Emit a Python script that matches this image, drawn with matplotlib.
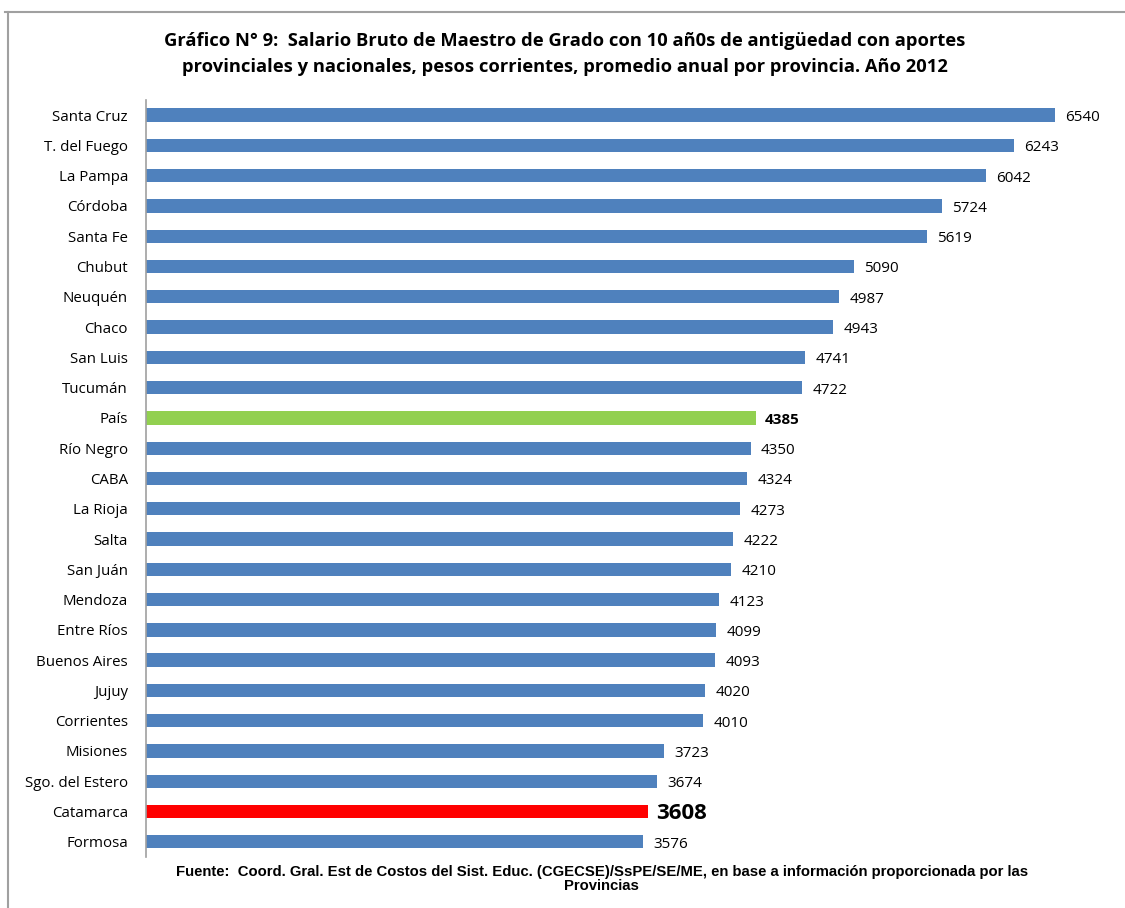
import numpy as np
import matplotlib.pyplot as plt
from matplotlib.lines import Line2D

provincias = ["Santa Cruz", "T. del Fuego", "La Pampa", "Córdoba", "Santa Fe",
              "Chubut", "Neuquén", "Chaco", "San Luis", "Tucumán", "País",
              "Río Negro", "CABA", "La Rioja", "Salta", "San Juán", "Mendoza",
              "Entre Ríos", "Buenos Aires", "Jujuy", "Corrientes", "Misiones",
              "Sgo. del Estero", "Catamarca", "Formosa"]
salarios = [6540, 6243, 6042, 5724, 5619, 5090, 4987, 4943, 4741, 4722, 4385,
            4350, 4324, 4273, 4222, 4210, 4123, 4099, 4093, 4020, 4010, 3723,
            3674, 3608, 3576]

titulo = ("Gráfico N° 9:  Salario Bruto de Maestro de Grado con 10 añ0s de antigüedad con aportes\n"
          "provinciales y nacionales, pesos corrientes, promedio anual por provincia. Año 2012")
fuente = ("Fuente:  Coord. Gral. Est de Costos del Sist. Educ. (CGECSE)/SsPE/SE/ME, en base a información proporcionada por las\n"
          "Provincias")

plt.rcParams['font.family'] = ['Open Sans', 'DejaVu Sans']

colores = []
for p in provincias:
    if p == "País":
        colores.append("#92D050")
    elif p == "Catamarca":
        colores.append("#FF0000")
    else:
        colores.append("#4F81BD")

fig = plt.figure(figsize=(11.25, 9.08), dpi=100)
ax = fig.add_axes([0.1298, 0.0562, 0.8649, 0.8337])

y = np.arange(len(provincias))
ax.barh(y, salarios, height=0.44, color=colores)
ax.set_ylim(len(provincias) - 0.5, -0.5)
ax.set_xlim(0, 7000)
ax.set_yticks(y)
ax.set_yticklabels(provincias, fontsize=10.8)
ax.tick_params(axis='y', length=0, pad=13)
ax.set_xticks([])
for s in ["top", "right", "bottom"]:
    ax.spines[s].set_visible(False)
ax.spines["left"].set_color("#A0A0A0")
ax.spines["left"].set_linewidth(1.2)

for yi, v, p in zip(y, salarios, provincias):
    if p == "Catamarca":
        ax.text(v + 65, yi + 0.05, str(v), va="center", ha="left", fontsize=16, fontweight="bold")
    elif p == "País":
        ax.text(v + 65, yi + 0.08, str(v), va="center", ha="left", fontsize=11, fontweight="bold")
    else:
        ax.text(v + 75, yi + 0.08, str(v), va="center", ha="left", fontsize=11)

fig.text(0.502, 1 - 54 / 908, titulo, ha="center", va="center", fontsize=13.2,
         fontweight="bold", linespacing=1.55)
fig.text(0.535, 1 - 879 / 908, fuente, ha="center", va="center", fontsize=10.7,
         fontweight="bold", family="Liberation Sans", linespacing=0.95)

# marco del grafico
fig.add_artist(Line2D([5 / 1125, 1], [1 - 12 / 908, 1 - 12 / 908], color="#A0A0A0", lw=1.5))
fig.add_artist(Line2D([8 / 1125, 8 / 1125], [0, 1 - 12 / 908], color="#A0A0A0", lw=1.5))

fig.savefig("out.png", dpi=100)
